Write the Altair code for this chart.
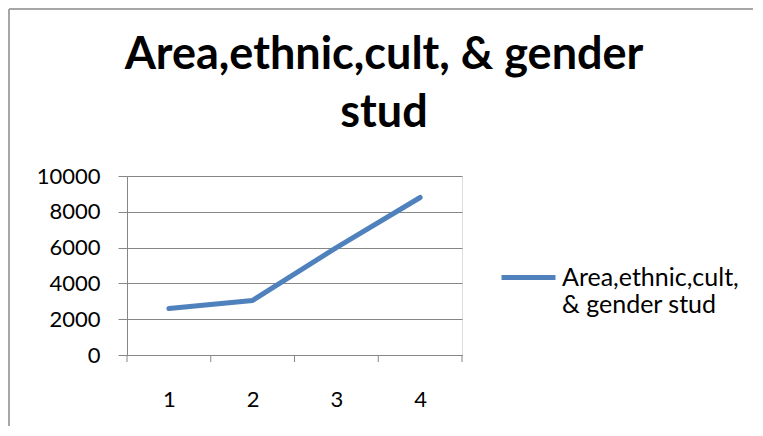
import altair as alt
import pandas as pd

categories = [1, 2, 3, 4]
values = [2600, 3050, 6000, 8800]
series_name = "Area,ethnic,cult, & gender stud"
title_lines = ["Area,ethnic,cult, & gender", "stud"]
y_ticks = [0, 2000, 4000, 6000, 8000, 10000]
x_boundaries = [0.5, 1.5, 2.5, 3.5, 4.5]

df = pd.DataFrame({"cat": categories, "value": values, "series": [series_name] * len(categories)})
bdf = pd.DataFrame({"b": x_boundaries})

FONT = "Lato"
GRAY = "#868686"
BLUE = "#4F81BD"
FRAME = "#A6A6A6"

xscale = alt.Scale(domain=[0.5, 4.5], nice=False, zero=False)
yscale = alt.Scale(domain=[0, 10000], nice=False)
xaxis = alt.Axis(values=categories, format="d", ticks=False, grid=False,
                 domainColor=GRAY, labelPadding=34, labelFont=FONT,
                 labelFontSize=22, labelColor="#000000", title=None)

one = pd.DataFrame({"f": [0]})
frame_left = alt.Chart(one).mark_rule(color=FRAME, strokeWidth=2).encode(
    x=alt.value(-118), y=alt.value(-167), y2=alt.value(250))
frame_top = alt.Chart(one).mark_rule(color=FRAME, strokeWidth=2).encode(
    y=alt.value(-167), x=alt.value(-118), x2=alt.value(626))

line = alt.Chart(df).mark_line(strokeWidth=5, strokeCap="round", strokeJoin="round").encode(
    x=alt.X("cat:Q", scale=xscale, axis=xaxis),
    y=alt.Y("value:Q", scale=yscale,
            axis=alt.Axis(values=y_ticks, format="d", grid=True, gridColor=GRAY, tickSize=9,
                          tickColor=GRAY, domainColor=GRAY, labelPadding=18,
                          labelFont=FONT, labelFontSize=22, labelColor="#000000",
                          title=None)),
    color=alt.Color("series:N", scale=alt.Scale(range=[BLUE]),
                    legend=alt.Legend(orient="none", legendX=372, legendY=72,
                                      title=None, symbolType="stroke", symbolSize=2916,
                                      symbolStrokeWidth=5, labelFont=FONT,
                                      labelFontSize=25, labelLimit=0, labelOffset=4,
                                      labelColor="#000000",
                                      labelExpr="[slice(datum.label,0,17), slice(datum.label,18)]")),
)

ticks = alt.Chart(bdf).mark_rule(color=GRAY, strokeWidth=1).encode(
    x=alt.X("b:Q", scale=xscale, axis=xaxis), y=alt.value(179), y2=alt.value(186)
)

chart = alt.layer(frame_left, frame_top, line, ticks).properties(
    width=335, height=179,
    padding={"left": 119, "top": 168, "right": 293, "bottom": 73},
    autosize=alt.AutoSizeParams(type="none"),
    title=alt.TitleParams(text=title_lines, font=FONT, fontSize=45, fontWeight="bold",
                          color="#000000", anchor="middle", frame="group", dx=89.5,
                          baseline="alphabetic", offset=0, dy=164, lineHeight=58),
).configure_view(stroke=None).configure(background="white")

chart.save("out.html", embed_options={"renderer": "svg", "actions": False})
